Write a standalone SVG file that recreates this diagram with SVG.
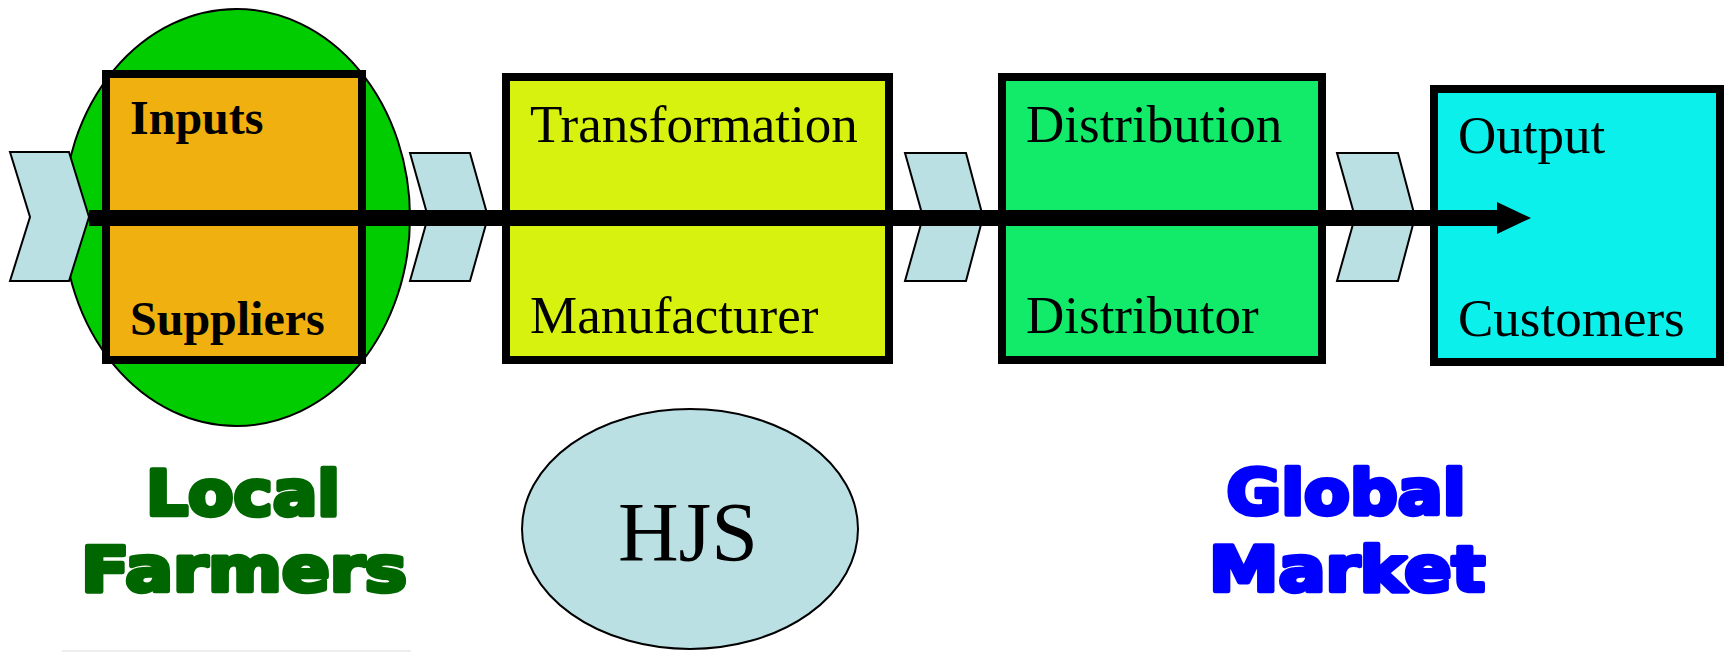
<svg xmlns="http://www.w3.org/2000/svg" width="1724" height="652" viewBox="0 0 1724 652">
<style>
.chev{fill:#BAE0E4;stroke:#000;stroke-width:2;stroke-linejoin:miter}
.box{stroke:#000;stroke-width:8}
.serif{font-family:"Liberation Serif","Times New Roman",serif;fill:#000}
.lbl{font-size:53px}
.blbl{font-size:48px;font-weight:bold}
.heavy{font-family:"DejaVu Sans","Liberation Sans",sans-serif;font-weight:bold;font-size:62px;stroke-width:4.5;stroke-linejoin:round;text-anchor:middle}
</style>
<rect width="1724" height="652" fill="#fff"/>
<g id="local-farmers-ellipse">
<ellipse cx="236.5" cy="217.5" rx="173.5" ry="208.5" fill="#00CC00" stroke="#000" stroke-width="2"/>
</g>
<g id="chevrons">
<polygon class="chev" points="10,152 69,152 89,217 69,281 10,281 30,217"/>
<polygon class="chev" points="410,153 470,153 488,217 470,281 410,281 428,217"/>
<polygon class="chev" points="905,153 966,153 983,217 966,281 905,281 923,217"/>
<polygon class="chev" points="1337,153 1398,153 1415,217 1398,281 1337,281 1355,217"/>
</g>
<g id="inputs">
<rect class="box" x="106" y="74" width="256" height="286" fill="#F0B010"/>
<text class="serif blbl" x="130" y="134">Inputs</text>
<text class="serif blbl" x="130" y="335">Suppliers</text>
</g>
<g id="transformation">
<rect class="box" x="506" y="77" width="383" height="283" fill="#D6F20E"/>
<text class="serif lbl" x="530" y="142">Transformation</text>
<text class="serif lbl" x="530" y="333">Manufacturer</text>
</g>
<g id="distribution">
<rect class="box" x="1002" y="77" width="320" height="283" fill="#12EB6A"/>
<text class="serif lbl" x="1026" y="142">Distribution</text>
<text class="serif lbl" x="1026" y="333">Distributor</text>
</g>
<g id="output">
<rect class="box" x="1434" y="89" width="286" height="273" fill="#0CF0EC"/>
<text class="serif lbl" x="1458" y="153">Output</text>
<text class="serif lbl" x="1458" y="336">Customers</text>
</g>
<g id="connectors">
<line x1="89" y1="218" x2="1500" y2="218" stroke="#000" stroke-width="16"/>
<polygon points="1497,202 1531,218 1497,234" fill="#000"/>
</g>
<g id="local-farmers-label" fill="#006600" stroke="#006600">
<text class="heavy" x="243" y="515" textLength="194" lengthAdjust="spacingAndGlyphs">Local</text>
<text class="heavy" x="244" y="591" textLength="326" lengthAdjust="spacingAndGlyphs">Farmers</text>
</g>
<g id="hjs">
<ellipse cx="690" cy="529" rx="168" ry="120" fill="#BAE0E4" stroke="#000" stroke-width="2"/>
<text class="serif" x="688" y="561" font-size="84" text-anchor="middle">HJS</text>
</g>
<g id="global-market-label" fill="#0000FF" stroke="#0000FF">
<text class="heavy" x="1346" y="514" textLength="239" lengthAdjust="spacingAndGlyphs">Global</text>
<text class="heavy" x="1347" y="591" textLength="276" lengthAdjust="spacingAndGlyphs">Market</text>
</g>
<rect x="62" y="650" width="349" height="2" fill="#EEEEEE"/>
</svg>
